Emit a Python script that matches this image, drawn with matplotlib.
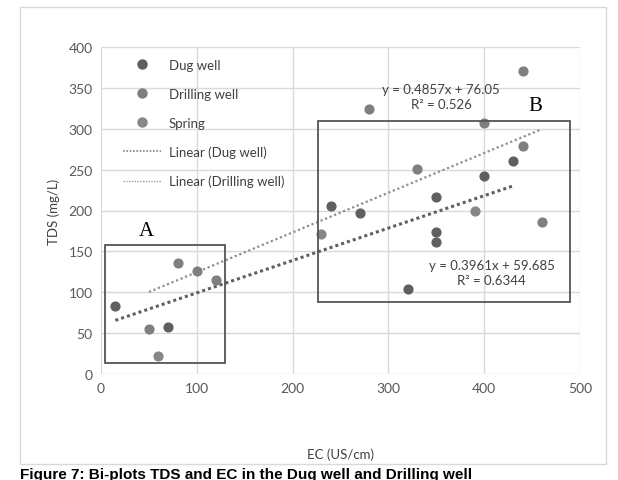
import matplotlib.pyplot as plt
from matplotlib.lines import Line2D
from matplotlib.patches import Rectangle
import numpy as np

# data
dug_ec = [15, 70, 240, 270, 320, 350, 350, 350, 400, 430]
dug_tds = [83, 57, 206, 197, 104, 216, 174, 162, 242, 260]

drill_ec = [50, 80, 100, 120, 280, 330, 400, 440, 440, 460]
drill_tds = [55, 136, 126, 115, 324, 251, 307, 279, 371, 186]

spring_ec = [60, 230, 390]
spring_tds = [22, 171, 200]

# trendlines as given on the chart: slope, intercept, x range
dug_fit = [0.3961, 59.685, 15, 430]
drill_fit = [0.4857, 76.05, 50, 460]

plt.rcParams['font.family'] = ['Lato', 'DejaVu Sans']

fig = plt.figure(figsize=(6.18, 4.81), dpi=100)
fig.patch.set_facecolor('white')

# outer chart border
fig.patches.append(Rectangle((20 / 618, 1 - 465 / 481), 586 / 618, 457 / 481,
                             transform=fig.transFigure, fill=False,
                             edgecolor='#d9d9d9', lw=1.0))

ax = fig.add_axes([101 / 618, 1 - 375 / 481, 479 / 618, 327 / 481])
ax.set_xlim(0, 500)
ax.set_ylim(0, 400)
ax.set_xticks(range(0, 501, 100))
ax.set_yticks(range(0, 401, 50))
ax.grid(True, color='#d9d9d9', lw=1.0)
ax.set_axisbelow(True)
for s in ax.spines.values():
  s.set_visible(False)
ax.tick_params(length=0, labelsize=10, colors='#595959', pad=6)

dug_col = '#5f5f5f'
drill_col = '#7f7f7f'
spring_col = '#878787'

ax.scatter(dug_ec, dug_tds, s=40, color=dug_col, zorder=3)
ax.scatter(drill_ec, drill_tds, s=40, color=drill_col, zorder=3)
ax.scatter(spring_ec, spring_tds, s=40, color=spring_col, zorder=3)

xd = np.array(dug_fit[2:])
ax.plot(xd, dug_fit[0] * xd + dug_fit[1], ls=(0, (1, 1)), lw=2.2, color='#606060', zorder=2)
xr = np.array(drill_fit[2:])
ax.plot(xr, drill_fit[0] * xr + drill_fit[1], ls=(0, (1, 1.2)), lw=1.6, color='#8f8f8f', zorder=2)

# boxes A and B
ax.add_patch(Rectangle((4, 13), 125, 145, fill=False, edgecolor='#555555', lw=1.3, zorder=4))
ax.add_patch(Rectangle((227, 88), 263, 221, fill=False, edgecolor='#555555', lw=1.3, zorder=4))
ax.text(47, 175, 'A', family='Liberation Serif', fontsize=15, ha='center', va='center')
ax.text(453, 329, 'B', family='Liberation Serif', fontsize=15, ha='center', va='center')

ax.text(355, 340, 'y = 0.4857x + 76.05\nR² = 0.526', fontsize=9.5, color='#404040',
        ha='center', va='center', linespacing=1.3)
ax.text(408, 124, 'y = 0.3961x + 59.685\nR² = 0.6344', fontsize=9.5, color='#404040',
        ha='center', va='center', linespacing=1.3)

ax.set_xlabel('EC (US/cm)', fontsize=9.5, color='#404040', labelpad=38)
ax.set_ylabel('TDS (mg/L)', fontsize=9.5, color='#404040', labelpad=6)

handles = [
  Line2D([], [], ls='', marker='o', ms=6.5, color=dug_col),
  Line2D([], [], ls='', marker='o', ms=6.5, color=drill_col),
  Line2D([], [], ls='', marker='o', ms=6.5, color=spring_col),
  Line2D([], [], ls=(0, (1, 1)), lw=1.2, color='#808080'),
  Line2D([], [], ls=(0, (1, 1)), lw=1.0, color='#a0a0a0'),
]
labels = ['Dug well', 'Drilling well', 'Spring', 'Linear (Dug well)', 'Linear (Drilling well)']
leg = ax.legend(handles, labels, loc='upper left', bbox_to_anchor=(0.035, 0.98),
                frameon=False, fontsize=9.5, labelspacing=1.28, handlelength=2.9,
                handletextpad=0.55, borderaxespad=0)
for t in leg.get_texts():
  t.set_color('#404040')

fig.text(20 / 618, 1 - 468 / 481, 'Figure 7: Bi-plots TDS and EC in the Dug well and Drilling well',
         family='Liberation Sans', fontweight='bold', fontsize=11, ha='left', va='top')

plt.savefig('out.png', dpi=100)
